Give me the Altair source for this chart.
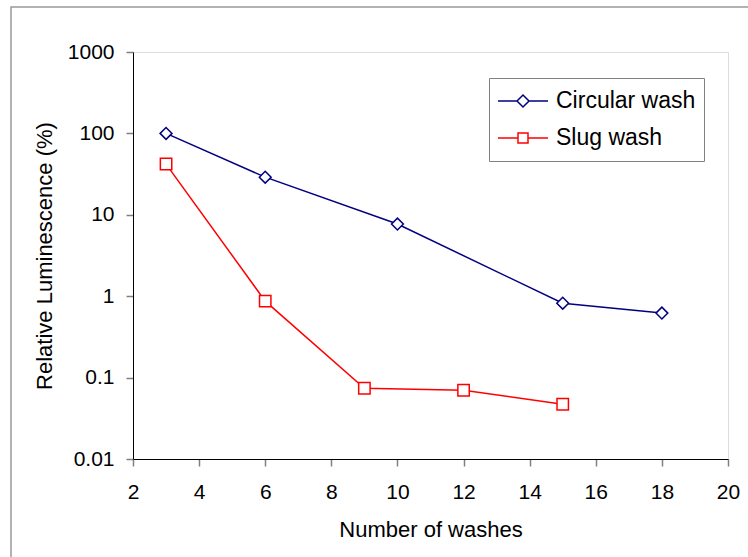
import altair as alt
import pandas as pd

series_names = ["Circular wash", "Slug wash"]
circ_x = [3, 6, 10, 15, 18]
circ_y = [100, 29, 7.7, 0.82, 0.62]
slug_x = [3, 6, 9, 12, 15]
slug_y = [42, 0.87, 0.074, 0.070, 0.047]
x_ticks = [2, 4, 6, 8, 10, 12, 14, 16, 18, 20]
y_ticks = [0.01, 0.1, 1, 10, 100, 1000]

rows = []
for x, y in zip(circ_x, circ_y):
    rows.append({"washes": x, "lum": y, "series": series_names[0]})
for x, y in zip(slug_x, slug_y):
    rows.append({"washes": x, "lum": y, "series": series_names[1]})
df = pd.DataFrame(rows)

FONT = "Liberation Sans"
colors = ["#000080", "#FF0000"]

# legend symbol paths: line segment + marker (unit square coordinates)
leg_diamond = "M-1,0L-0.24,0M0.24,0L1,0M-0.24,0L0,-0.24L0.24,0L0,0.24Z"
leg_square = "M-1,0L-0.2,0M0.2,0L1,0M-0.2,-0.2L0.2,-0.2L0.2,0.2L-0.2,0.2Z"

xs = alt.X("washes:Q",
           scale=alt.Scale(domain=[2, 20], nice=False, zero=False),
           axis=alt.Axis(values=x_ticks, title="Number of washes", grid=False, ticks=True,
                         tickSize=7, tickColor="#808080", tickWidth=1.5, domainColor="#000000",
                         labelFontSize=21, labelFont=FONT, labelColor="#000000",
                         labelPadding=15, titleFontSize=22, titleFont=FONT,
                         titleFontWeight="normal", titleColor="#000000",
                         titlePadding=17, labelFlush=False))
ys = alt.Y("lum:Q",
           scale=alt.Scale(type="log", domain=[0.01, 1000], nice=False),
           axis=alt.Axis(values=y_ticks, title="Relative Luminescence (%)", grid=False, ticks=True,
                         format="~g",
                         tickSize=7, tickColor="#808080", tickWidth=1.5, domainColor="#000000",
                         labelFontSize=21, labelFont=FONT, labelColor="#000000",
                         labelPadding=12, titleFontSize=22, titleFont=FONT,
                         titleFontWeight="normal", titleColor="#000000",
                         titlePadding=11))

leg = alt.Legend(orient="none", legendX=356, legendY=26, title=None,
                 strokeColor="#808080", fillColor="white",
                 padding=8, symbolSize=2500, symbolStrokeWidth=1.5,
                 labelFontSize=23, labelFont=FONT, labelColor="#000000",
                 labelOffset=7, rowPadding=7, clipHeight=30, symbolOpacity=1)

color_enc = alt.Color("series:N", scale=alt.Scale(domain=series_names, range=colors), legend=leg)

base = alt.Chart(df)

lines = base.mark_line(strokeWidth=1.5).encode(
    x=xs, y=ys, color=color_enc, detail="series:N",
)

pts_circ = base.transform_filter(alt.datum.series == series_names[0]).mark_point(
    shape="diamond", filled=False, fill="white", strokeWidth=1.5, size=140, opacity=1
).encode(x=xs, y=ys, color=color_enc)

pts_slug = base.transform_filter(alt.datum.series == series_names[1]).mark_point(
    shape="square", filled=False, fill="white", strokeWidth=1.5, size=130, opacity=1
).encode(x=xs, y=ys, color=color_enc)

legend_carrier = base.mark_point(filled=False, opacity=0, strokeWidth=1.5).encode(
    x=xs, y=ys,
    color=color_enc,
    shape=alt.Shape("series:N", scale=alt.Scale(domain=series_names, range=[leg_diamond, leg_square]),
                    legend=leg),
)

frame = alt.Chart(pd.DataFrame({"a": [0]})).mark_rect(
    fill="transparent", stroke="#999999", strokeWidth=1.5
).encode(x=alt.value(-122), y=alt.value(-45), x2=alt.value(800), y2=alt.value(600))

chart = alt.layer(frame, lines, pts_circ, pts_slug, legend_carrier).properties(
    width=595, height=407,
    autosize=alt.AutoSizeParams(type="none"),
    padding={"left": 133, "top": 52, "right": 20, "bottom": 98},
).configure_view(stroke="#000000", strokeWidth=1.5).configure(background="white")

chart.save("out.html", embed_options={"renderer": "svg", "actions": False})
